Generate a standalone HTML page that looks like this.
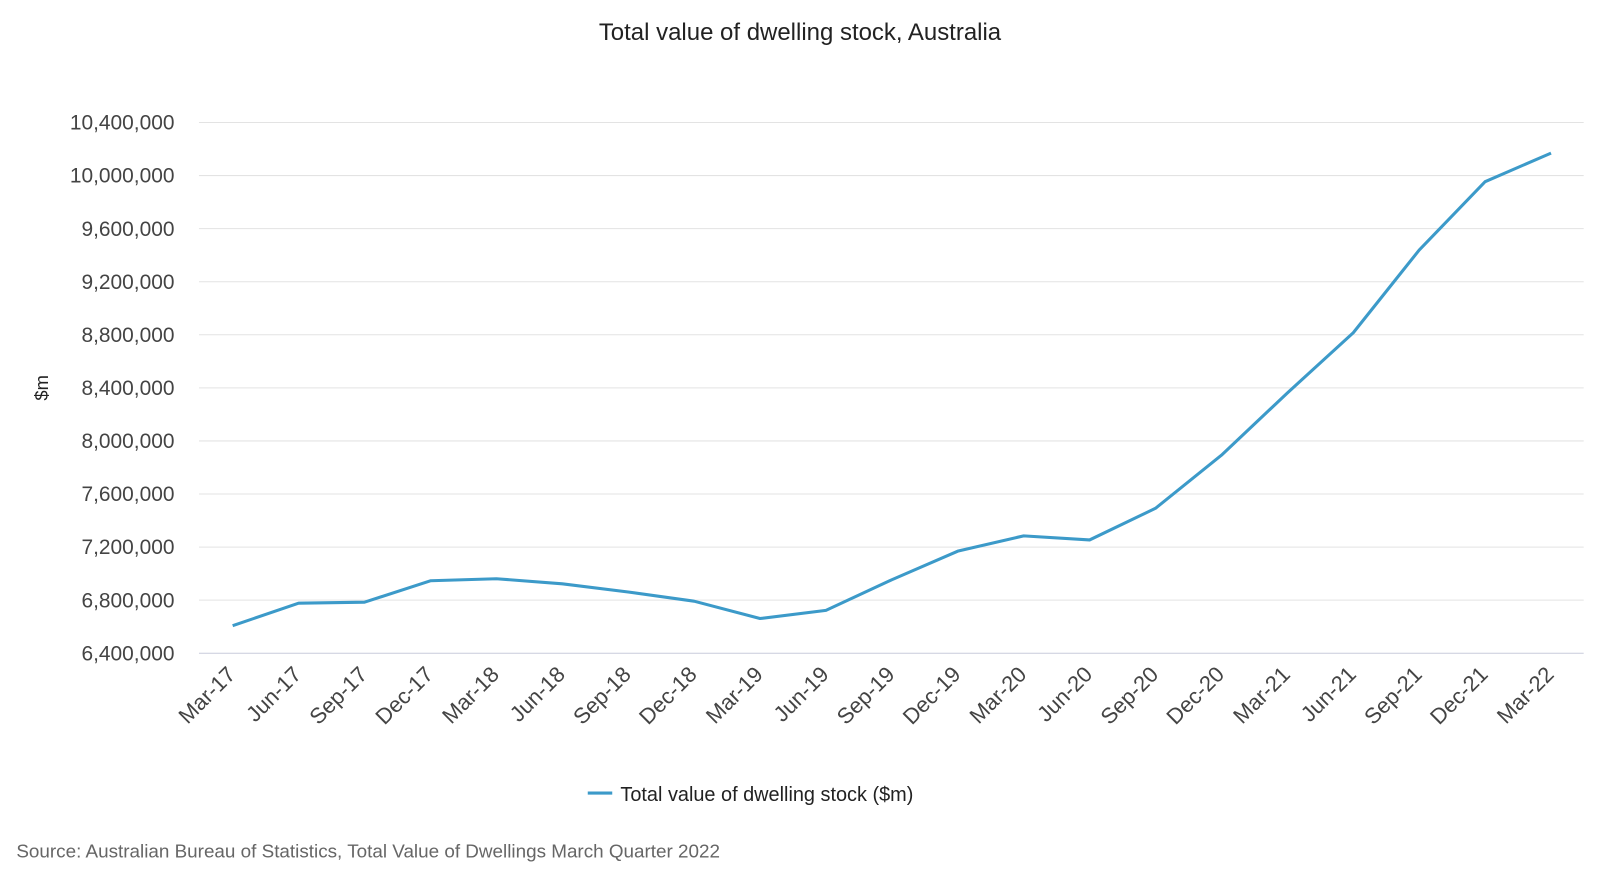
<!DOCTYPE html>
<html><head><meta charset="utf-8"><style>
html,body{margin:0;padding:0;background:#fff;}
body{width:1600px;height:889px;overflow:hidden;font-family:"Liberation Sans",sans-serif;}
</style></head><body>
<svg id="chart" width="1600" height="889" viewBox="0 0 1568 871" preserveAspectRatio="none" xmlns="http://www.w3.org/2000/svg" font-family="Liberation Sans, sans-serif">
<text x="784" y="39" text-anchor="middle" font-size="23.5" fill="#222">Total value of dwelling stock, Australia</text>
<text transform="translate(47,380) rotate(-90)" text-anchor="middle" font-size="18" fill="#222">$m</text>
<g id="grid"></g><g id="yticks"></g><g id="xticks"></g><g id="series"></g>
<g>
<line x1="576" y1="777" x2="600" y2="777" stroke="#3c9ac9" stroke-width="3"/>
<text x="608" y="785" font-size="19.5" fill="#222">Total value of dwelling stock ($m)</text>
</g>
<text x="16" y="840" font-size="18.5" fill="#666">Source: Australian Bureau of Statistics, Total Value of Dwellings March Quarter 2022</text>
</svg>
<script>
const categories=["Mar-17","Jun-17","Sep-17","Dec-17","Mar-18","Jun-18","Sep-18","Dec-18","Mar-19","Jun-19","Sep-19","Dec-19","Mar-20","Jun-20","Sep-20","Dec-20","Mar-21","Jun-21","Sep-21","Dec-21","Mar-22"];
const values=[6607700,6776900,6784600,6946000,6961500,6923000,6861500,6792300,6661500,6723000,6953800,7169200,7284600,7253800,7492300,7892300,8361500,8815400,9438500,9953800,10169200];
const yTicks=[6400000,6800000,7200000,7600000,8000000,8400000,8800000,9200000,9600000,10000000,10400000];
const NS="http://www.w3.org/2000/svg";
function y(v){return 640-(v-6400000)/4000000*520;}
function x(i){return 228+i*(1520-228)/(categories.length-1);}
function mk(t,a,p){const e=document.createElementNS(NS,t);for(const k in a)e.setAttribute(k,a[k]);p.appendChild(e);return e;}
const grid=document.getElementById('grid'),yt=document.getElementById('yticks'),xt=document.getElementById('xticks'),se=document.getElementById('series');
yTicks.forEach((v,i)=>{
 const l=mk('line',{x1:195,x2:1552,y1:y(v),y2:y(v),stroke:i===0?'#c8cbdc':'#e3e3e3','stroke-width':1},grid);
 
 
 const t=mk('text',{x:171,y:y(v)+7,'text-anchor':'end','font-size':20.5,fill:'#444'},yt);
 t.textContent=v.toLocaleString('en-US');
 
 
});
categories.forEach((c,i)=>{
 const t=mk('text',{transform:`translate(${x(i)+4},${662}) rotate(-45)`,'text-anchor':'end','font-size':21.5,fill:'#444'},xt);
 t.textContent=c;
 
 
});
const p=mk('polyline',{points:values.map((v,i)=>x(i)+','+y(v)).join(' '),fill:'none',stroke:'#3c9ac9','stroke-width':3,'stroke-linejoin':'round'},se);


</script>
</body></html>
